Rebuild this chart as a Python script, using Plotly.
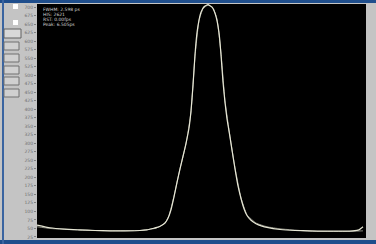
import plotly.graph_objects as go

# sample positions (arbitrary time units) and counts
t = [0, 13, 28, 43, 58, 73, 88, 103, 110, 116, 120, 124, 128, 131, 134, 137, 140, 143, 146,
     149, 152, 154, 156, 158, 160, 162, 164, 167, 171, 175, 178, 180, 182, 184, 186, 188,
     190, 193, 195, 198, 201, 204, 207, 210, 214, 219, 225, 230, 243, 258, 273, 288, 298,
     308, 316, 322, 326]
counts = [60, 52, 48, 46, 44, 43, 43, 44, 46, 50, 53, 58, 66, 80, 105, 143, 185, 225, 262,
          300, 345, 395, 470, 560, 625, 662, 685, 701, 707, 700, 682, 660, 625, 560, 480, 420,
          372, 318, 280, 225, 175, 138, 108, 88, 74, 64, 57, 53, 47, 44, 43, 42, 42,
          42, 43, 46, 55]
fit_t = [0, 13, 43, 73, 103, 118, 123, 128, 132, 137, 143, 149, 154, 158, 162, 166, 171, 176,
         180, 184, 188, 193, 198, 204, 210, 219, 230, 243, 273, 308, 326]
fit = [55, 50, 45, 43, 44, 50, 56, 66, 88, 145, 225, 298, 392, 555, 660, 695, 706, 698,
       665, 565, 425, 320, 228, 140, 90, 66, 55, 49, 42, 41, 43]

ytick_vals = list(range(25, 701, 25))
info_lines = ["FWHM: 2.598 ps", "HIS: 2621", "RST: 0.00fps", "Peak: 6.505ps"]

fig = go.Figure()
fig.add_trace(go.Scatter(x=fit_t, y=fit, mode="lines", line=dict(color="#85857c", width=1, shape="spline", smoothing=0.4),
                         showlegend=False, hoverinfo="skip"))
fig.add_trace(go.Scatter(x=t, y=counts, mode="lines", line=dict(color="#e6e6d4", width=1.2, shape="spline", smoothing=0.4),
                         showlegend=False))

W = 329.0
H = 234.0
def px(p):
    return (p - 37) / W
def py(p):
    return 1 - (p - 4) / H

shapes = [
    # blue window frame
    dict(type="rect", xref="paper", yref="paper", x0=px(0), x1=px(376), y0=py(3), y1=py(0), fillcolor="#1f4e8c", line_width=0, layer="above"),
    dict(type="rect", xref="paper", yref="paper", x0=px(0), x1=px(376), y0=py(244), y1=py(240), fillcolor="#1f4e8c", line_width=0, layer="above"),
    dict(type="rect", xref="paper", yref="paper", x0=px(2), x1=px(4), y0=py(244), y1=py(0), fillcolor="#3a64a0", line_width=0, layer="above"),
]
# left-panel controls
for yy in [6, 22]:
    shapes.append(dict(type="rect", xref="paper", yref="paper", x0=px(13), x1=px(18), y0=py(yy + 3), y1=py(yy - 2),
                       fillcolor="white", line_width=0))
shapes.append(dict(type="rect", xref="paper", yref="paper", x0=px(4), x1=px(21), y0=py(38), y1=py(29),
                   fillcolor="#d8d8d8", line=dict(color="#606060", width=1)))
for yy in [46, 58, 70, 81, 93]:
    shapes.append(dict(type="rect", xref="paper", yref="paper", x0=px(4), x1=px(19), y0=py(yy + 4), y1=py(yy - 4),
                       fillcolor="#d0d0d0", line=dict(color="#707070", width=1)))

annotations = [dict(xref="paper", yref="paper", x=0.012, y=py(5 + 5 * i), xanchor="left", yanchor="top",
                    text=s, showarrow=False, font=dict(size=4.5, color="#d0d0d0", family="DejaVu Sans"))
               for i, s in enumerate(info_lines)]

fig.update_layout(
    width=376, height=244,
    margin=dict(l=37, r=10, t=4, b=6),
    paper_bgcolor="#c4c4c4", plot_bgcolor="black",
    xaxis=dict(range=[0, 329], showgrid=False, zeroline=False, showticklabels=False, ticks="", automargin=False),
    yaxis=dict(range=[22, 709], tickvals=ytick_vals, ticktext=[str(v) for v in ytick_vals],
               showgrid=False, zeroline=False, ticks="outside", ticklen=2, tickcolor="#808080", automargin=False,
               tickfont=dict(size=4.5, color="#707070", family="DejaVu Sans")),
    shapes=shapes, annotations=annotations,
)
fig.write_html("out.html", config={"displayModeBar": False},
               post_script="document.body.style.margin='0';document.body.style.overflow='hidden';")
